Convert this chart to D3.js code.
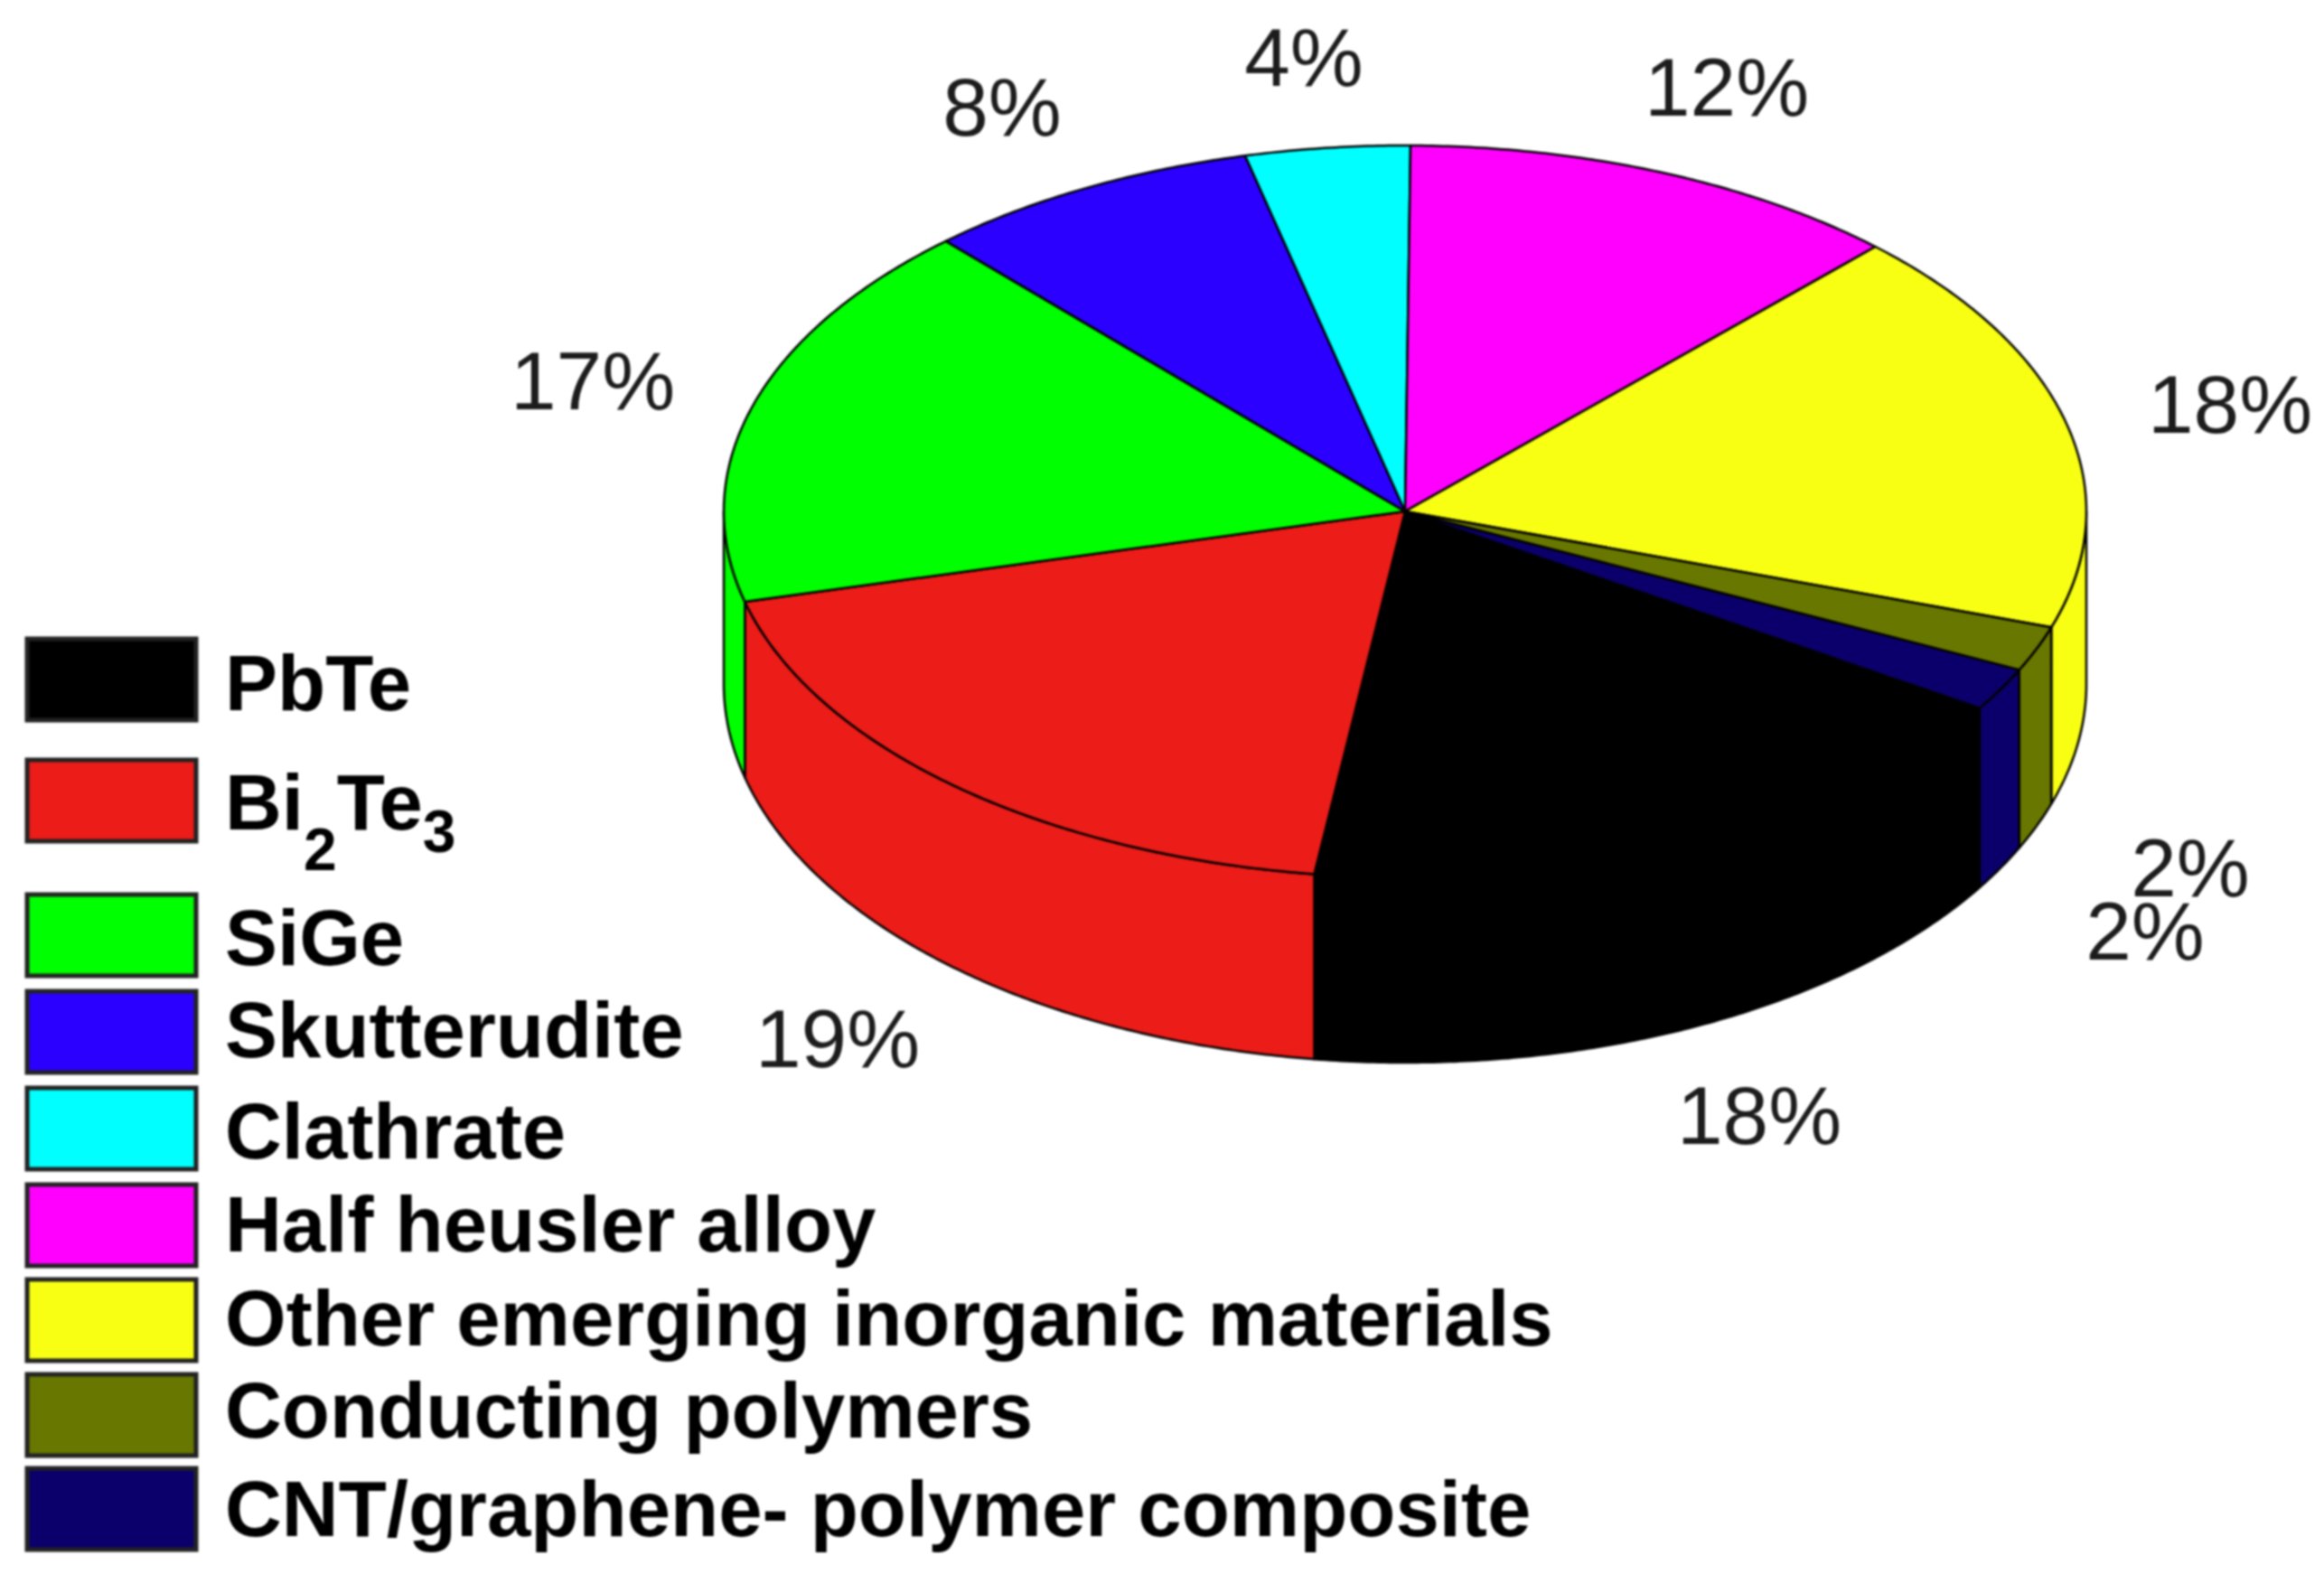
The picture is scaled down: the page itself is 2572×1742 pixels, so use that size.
<!DOCTYPE html>
<html>
<head>
<meta charset="utf-8">
<script src="https://d3js.org/d3.v7.min.js"></script>
<style>
  html, body { margin: 0; background: #fff; }
  svg { display: block; filter: blur(0.9px); }
  .legend text { font-family: "Liberation Sans", Arial, sans-serif; font-weight: bold; fill: #000; }
  .pct { font-family: "Liberation Sans", Arial, sans-serif; fill: #1c1c1c; text-anchor: middle; }
</style>
</head>
<body>
<script>
// values, legend order
var categories = ["PbTe", "Bi2Te3", "SiGe", "Skutterudite", "Clathrate", "Half heusler alloy",
  "Other emerging inorganic materials", "Conducting polymers", "CNT/graphene- polymer composite"];
var shares = [18.1, 18.9, 17.2, 8.0, 3.9, 12.0, 18.0, 2.0, 1.9];
var pctLabels = ["18%", "19%", "17%", "8%", "4%", "12%", "18%", "2%", "2%"];
var colors = ["#000000", "#ec1c18", "#00ff00", "#2b00ff", "#00ffff", "#ff00ff", "#f8ff12", "#687700", "#0b006b"];

// layout, in page pixels
var width = 2572, height = 1742;
var pieLeft = 801, pieRight = 2309, pieTop = 161, pieBottom = 971;
var baseTop = 338, baseBottom = 1176;   // lower rim is a slightly rounder ellipse
var firstAngle = 122.5 * Math.PI / 180;
var pctX = [1947, 927, 656, 1109, 1443, 1911, 2468, 2424, 2374];
var pctY = [1266, 1181, 453, 150, 95, 128, 479, 992, 1062];
var swatchY = [707, 841, 990, 1097, 1204, 1311, 1416, 1521, 1625];
var labelY = [786, 918, 1068, 1170, 1282, 1385, 1489, 1591, 1700];
var swatchX = 30, swatchW = 187, swatchH = 90, labelX = 249;

var svg = d3.select("body").append("svg")
  .attr("width", width)
  .attr("height", height);

// unit circle -> page
var sx = d3.scaleLinear().domain([-1, 1]).range([pieLeft, pieRight]);
var sy = d3.scaleLinear().domain([-1, 1]).range([pieTop, pieBottom]);
var syBase = d3.scaleLinear().domain([-1, 1]).range([baseTop, baseBottom]);

var slices = d3.pie().sort(null)
  .startAngle(firstAngle)
  .endAngle(firstAngle + 2 * Math.PI)(shares);

function angles(a0, a1) {
  var n = Math.max(2, Math.ceil((a1 - a0) / 0.008));
  return d3.range(n + 1).map(function(i) { return a0 + (a1 - a0) * i / n; });
}
function rim(a) {
  return [sx(Math.sin(a)), sy(-Math.cos(a))];
}
function base(a) {
  return [sx(Math.sin(a)), syBase(-Math.cos(a))];
}
var line = d3.line();

// only the front half of the wall shows: 90..270 degrees
function frontPart(d) {
  var lo = Math.PI / 2, hi = 3 * Math.PI / 2, turn = 2 * Math.PI;
  var a0 = Math.max(d.startAngle, lo), a1 = Math.min(d.endAngle, hi);
  if (a1 > a0) return [a0, a1];
  a0 = Math.max(d.startAngle, lo + turn);
  a1 = Math.min(d.endAngle, hi + turn);
  return a1 > a0 ? [a0, a1] : null;
}

var pie = svg.append("g");

pie.append("g").selectAll("path")
  .data(slices.filter(frontPart))
  .enter().append("path")
  .attr("d", function(d) {
    var part = frontPart(d), a = angles(part[0], part[1]);
    return line(a.map(rim).concat(a.slice().reverse().map(base))) + "Z";
  })
  .attr("fill", function(d) { return colors[d.index]; })
  .attr("stroke", "#000")
  .attr("stroke-width", 2.5)
  .attr("stroke-linejoin", "round");

pie.append("g").selectAll("path")
  .data(slices)
  .enter().append("path")
  .attr("d", function(d) {
    var pts = angles(d.startAngle, d.endAngle).map(rim);
    return line([[sx(0), sy(0)]].concat(pts)) + "Z";
  })
  .attr("fill", function(d) { return colors[d.index]; })
  .attr("stroke", "#000")
  .attr("stroke-width", 2.5)
  .attr("stroke-linejoin", "round");

svg.append("g").selectAll("text")
  .data(pctLabels)
  .enter().append("text")
  .attr("class", "pct")
  .attr("x", function(d, i) { return pctX[i]; })
  .attr("y", function(d, i) { return pctY[i]; })
  .attr("font-size", 91)
  .text(function(d) { return d; });

var legend = svg.append("g").attr("class", "legend");

legend.selectAll("rect")
  .data(categories)
  .enter().append("rect")
  .attr("x", swatchX)
  .attr("y", function(d, i) { return swatchY[i]; })
  .attr("width", swatchW)
  .attr("height", swatchH)
  .attr("fill", function(d, i) { return colors[i]; })
  .attr("stroke", "#222")
  .attr("stroke-width", 5);

var labels = legend.selectAll("text")
  .data(categories)
  .enter().append("text")
  .attr("x", labelX)
  .attr("y", function(d, i) { return labelY[i]; })
  .attr("font-size", 87);

labels.each(function(d) {
  var t = d3.select(this);
  if (d !== "Bi2Te3") { t.text(d); return; }
  // subscripts
  t.append("tspan").text("Bi");
  t.append("tspan").attr("font-size", 66).attr("dy", 45).text("2");
  t.append("tspan").attr("dy", -45).text("Te");
  t.append("tspan").attr("font-size", 66).attr("dy", 25).text("3");
});
</script>
</body>
</html>
